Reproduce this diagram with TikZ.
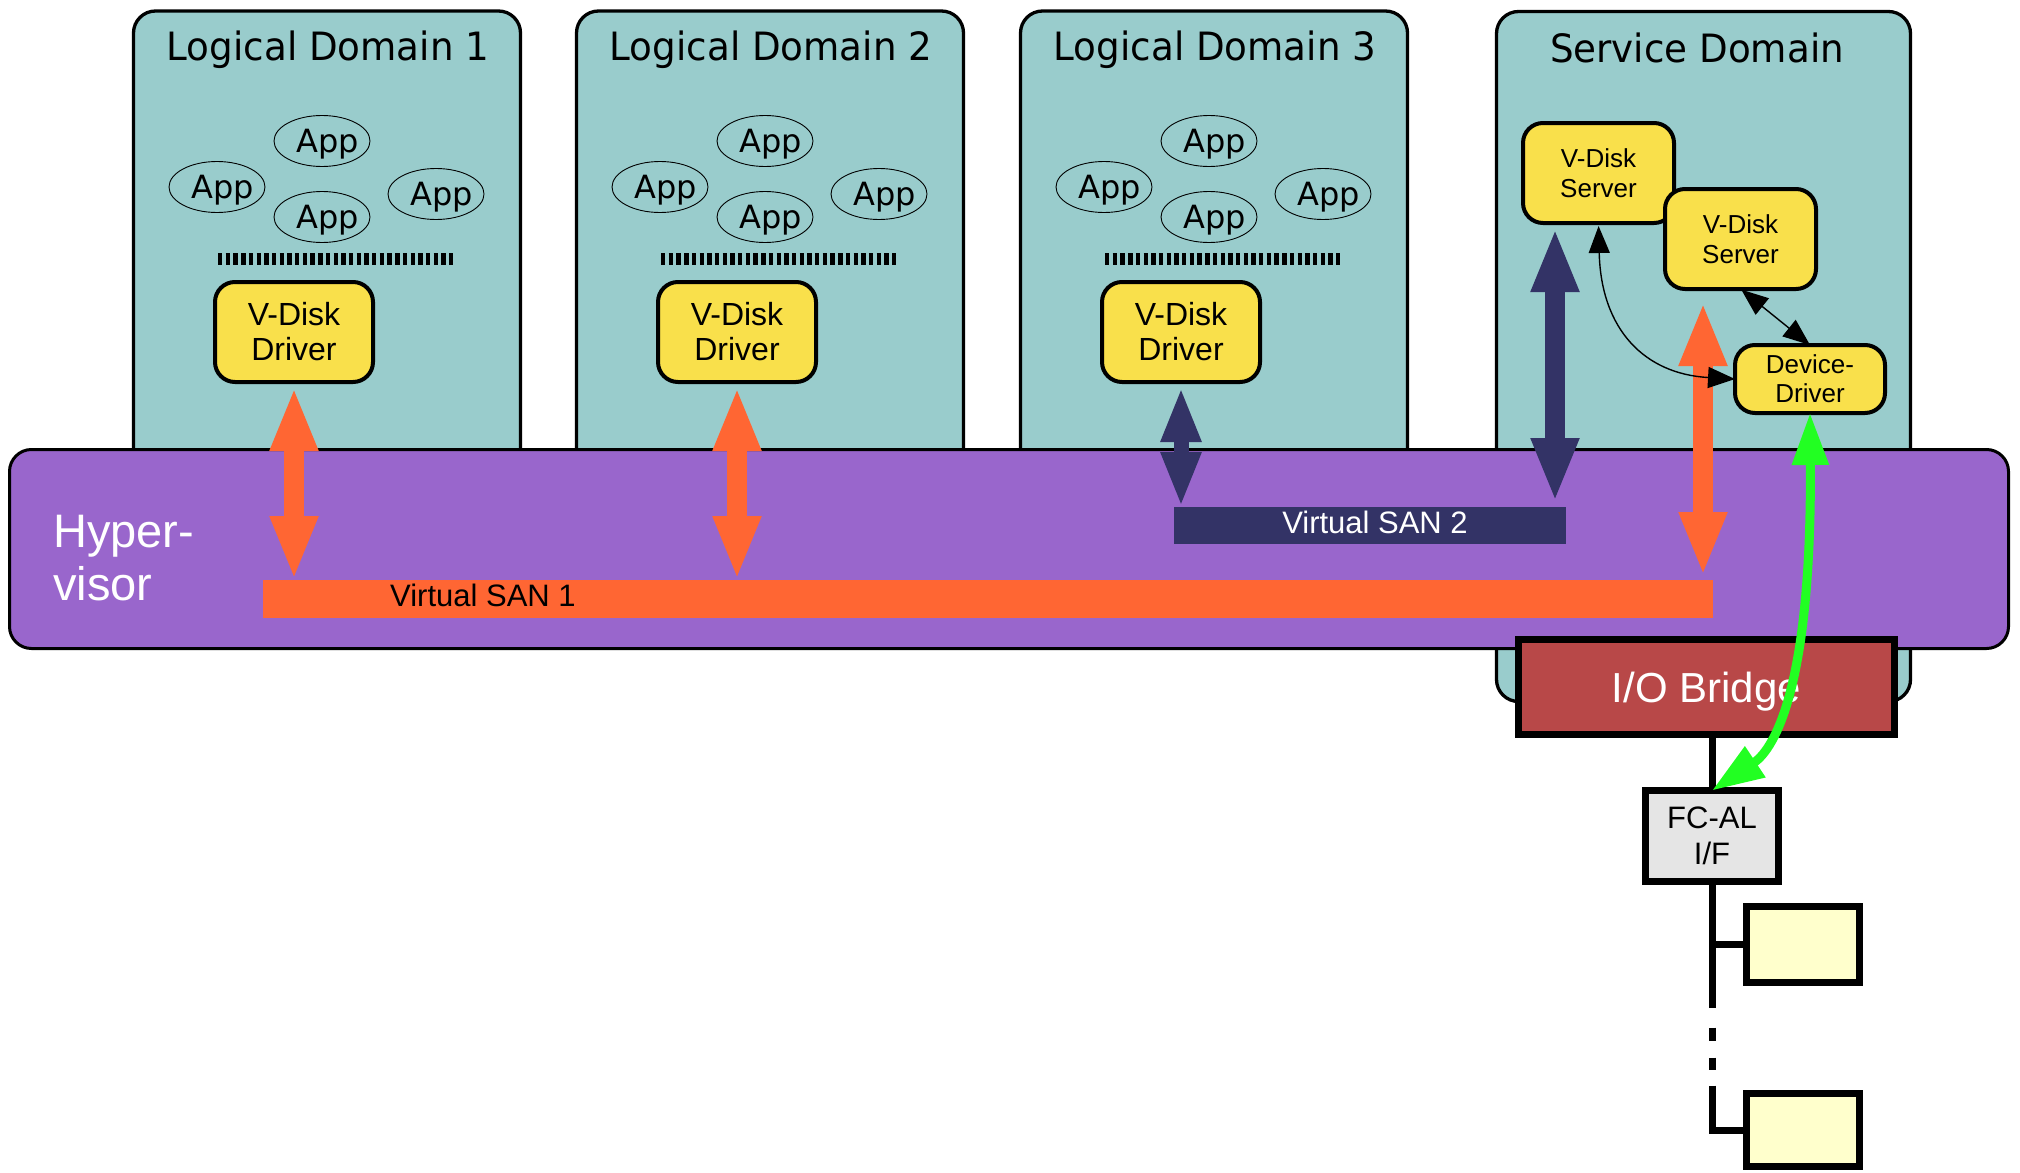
\documentclass[tikz,border=0pt]{standalone}
\usepackage{fontspec}
\setmainfont{Liberation Sans}
\newfontfamily\titlefont[FakeStretch=0.955]{DejaVu Sans}
\newfontfamily\appfont{DejaVu Sans}
\usetikzlibrary{arrows.meta,shapes.geometric}

\definecolor{domteal}{HTML}{99CCCC}
\definecolor{hvpurple}{HTML}{9966CC}
\definecolor{boxyellow}{HTML}{F9E04B}
\definecolor{sanorange}{HTML}{FF6633}
\definecolor{sannavy}{HTML}{333366}
\definecolor{bridgered}{HTML}{B84848}
\definecolor{linkgreen}{HTML}{22FF22}
\definecolor{ifgray}{HTML}{E5E5E5}
\definecolor{diskfill}{HTML}{FFFFCC}

\newcommand\setfs[2]{\fontsize{#1}{#2}\selectfont}
% application label, set slightly right of the ellipse centre
\newcommand\applabel{\makebox[0pt][c]{\hspace*{12pt}App}}

\tikzset{
  otip/.tip={Triangle[length=64pt,width=44pt]},
  ntip/.tip={Triangle[length=55pt,width=37pt]},
  gtip/.tip={Triangle[length=52pt,width=35pt]},
  ttip/.tip={Triangle[length=27pt,width=21pt]},
}

\begin{document}
\begin{tikzpicture}[x=1pt,y=-1pt,
  domainbox/.style={draw=black, line width=3.3pt, fill=domteal, rounded corners=22pt,
    inner sep=0pt, outer sep=0pt},
  titletext/.style={font=\titlefont\setfs{39}{44}, anchor=base, inner sep=0pt},
  app/.style={ellipse, draw=black, line width=0.9pt, minimum width=96pt, minimum height=51pt,
    inner sep=0pt, font=\appfont\setfs{32}{36}, text height=23pt, text depth=0pt},
  sepbar/.style={line width=12pt, dash pattern=on 4.4pt off 3.3pt},
  ybox/.style={draw=black, line width=4pt, fill=boxyellow, rounded corners=20pt,
    inner sep=0pt, outer sep=0pt, align=center},
  sanbar/.style={inner sep=0pt, outer sep=0pt},
  oarrow/.style={draw=sanorange, line width=20pt, otip-otip},
  narrow/.style={draw=sannavy, line width=20pt, otip-otip},
  nsmall/.style={draw=sannavy, line width=15pt, ntip-ntip},
  garrow/.style={draw=linkgreen, line width=9pt, gtip-gtip},
  tarrow/.style={draw=black, line width=1.4pt, ttip-ttip},
  bus/.style={draw=black, line width=7pt},
  sqbox/.style={draw=black, line width=7pt, inner sep=0pt, outer sep=0pt},
]
\useasboundingbox (0,0) rectangle (2020,1172);

% ---------- domains ----------
\node[domainbox, minimum width=387pt, minimum height=610pt] (ld1) at (327,316) {};
\node[domainbox, minimum width=387pt, minimum height=610pt] (ld2) at (770,316) {};
\node[domainbox, minimum width=387pt, minimum height=610pt] (ld3) at (1214,316) {};
\node[domainbox, minimum width=414pt, minimum height=690pt] (sd) at (1703.5,356.5) {};

\node[titletext] (ld1title) at (328,61) {Logical Domain 1};
\node[titletext] (ld2title) at (771,61) {Logical Domain 2};
\node[titletext] (ld3title) at (1215,61) {Logical Domain 3};
\node[titletext] (sdtitle) at (1697,63) {Service Domain};

% applications in each logical domain
\node[app] (a1a) at (322,141) {\applabel};
\node[app] (a1b) at (217,187) {\applabel};
\node[app] (a1c) at (322,217) {\applabel};
\node[app] (a1d) at (436,194) {\applabel};
\node[app] (a2a) at (765,141) {\applabel};
\node[app] (a2b) at (660,187) {\applabel};
\node[app] (a2c) at (765,217) {\applabel};
\node[app] (a2d) at (879,194) {\applabel};
\node[app] (a3a) at (1209,141) {\applabel};
\node[app] (a3b) at (1104,187) {\applabel};
\node[app] (a3c) at (1209,217) {\applabel};
\node[app] (a3d) at (1323,194) {\applabel};

% user / kernel separators
\draw[sepbar] (218,259) -- (453,259);
\draw[sepbar] (661,259) -- (896,259);
\draw[sepbar] (1105,259) -- (1340,259);

% virtual disk drivers
\node[ybox, minimum width=158pt, minimum height=100pt, font=\setfs{32}{35}] (d1) at (294,332) {V-Disk\\Driver};
\node[ybox, minimum width=158pt, minimum height=100pt, font=\setfs{32}{35}] (d2) at (737,332) {V-Disk\\Driver};
\node[ybox, minimum width=158pt, minimum height=100pt, font=\setfs{32}{35}] (d3) at (1181,332) {V-Disk\\Driver};

% service domain components
\node[ybox, minimum width=151pt, minimum height=100pt, font=\setfs{26}{30}] (srv1) at (1598.5,173) {V-Disk\\Server};
\node[ybox, minimum width=151pt, minimum height=100pt, font=\setfs{26}{30}] (srv2) at (1740.5,239) {V-Disk\\Server};
\node[ybox, minimum width=150pt, minimum height=68pt, font=\setfs{26}{29}] (dd) at (1810,379) {Device-\\Driver};

% ---------- hypervisor ----------
\node[draw=black, line width=3pt, fill=hvpurple, rounded corners=22pt, inner sep=0pt, outer sep=0pt,
  minimum width=1999pt, minimum height=199pt] (hv) at (1009,549) {};
\node[anchor=base west, inner sep=0pt, text=white, font=\setfs{47}{53}] (hvtop) at (53,547) {Hyper-};
\node[anchor=base west, inner sep=0pt, text=white, font=\setfs{47}{53}] (hvbot) at (53,600) {visor};

\node[sanbar, fill=sanorange, minimum width=1450pt, minimum height=38pt] (san1) at (988,599) {};
\node[anchor=base west, inner sep=0pt, font=\setfs{31}{35}] (san1label) at (390,606) {Virtual SAN 1};
\node[sanbar, fill=sannavy, minimum width=392pt, minimum height=37pt] (san2) at (1370,525.5) {};
\node[anchor=base, inner sep=0pt, text=white, font=\setfs{31}{35}] (san2label) at (1375,533) {Virtual SAN 2};

% ---------- I/O path ----------
\node[sqbox, fill=bridgered, minimum width=376pt, minimum height=95pt, text=white,
  font=\setfs{42}{46}, text height=30pt, text depth=0pt] (io) at (1706.5,687) {I/O Bridge};
\node[sqbox, fill=ifgray, minimum width=133pt, minimum height=91pt, align=center,
  font=\setfs{31}{36}] (fc) at (1712,836) {FC-AL\\I/F};
\node[sqbox, fill=diskfill, minimum width=113pt, minimum height=76pt] (disk1) at (1803,944.5) {};
\node[sqbox, fill=diskfill, minimum width=113pt, minimum height=73pt] (disk2) at (1803,1130) {};

\draw[bus] (io.south -| fc.north) -- (fc.north);
\draw[bus] (fc.south) |- (disk1.west);
\draw[bus, dash pattern=on 63pt off 20pt on 13pt off 17pt on 12pt off 16pt on 300pt off 1pt]
  (fc.south |- disk1.west) |- (disk2.west);

% ---------- connectors ----------
\coordinate (sdorange) at (1703,302);
\coordinate (sdnavy) at (1555,228);

\draw[oarrow, shorten <=5pt] (d1.south) -- (d1.south |- san1.north);
\draw[oarrow, shorten <=5pt] (d2.south) -- (d2.south |- san1.north);
\draw[oarrow, shorten >=4pt] (sdorange) -- (sdorange |- san1.north);
\draw[nsmall, shorten <=5pt] (d3.south) -- (d3.south |- san2.north);
\draw[narrow, shorten >=5pt] (sdnavy) -- (sdnavy |- san2.north);

\draw[tarrow, shorten <=3pt] (srv1.south) .. controls (1601,330) and (1645,374) .. (dd.west);
\draw[tarrow, shorten <=1pt] (srv2.south) -- (dd.north);
\draw[garrow] (dd.south) .. controls (1812,700) and (1770,752) .. (fc.north);

\end{tikzpicture}
\end{document}
